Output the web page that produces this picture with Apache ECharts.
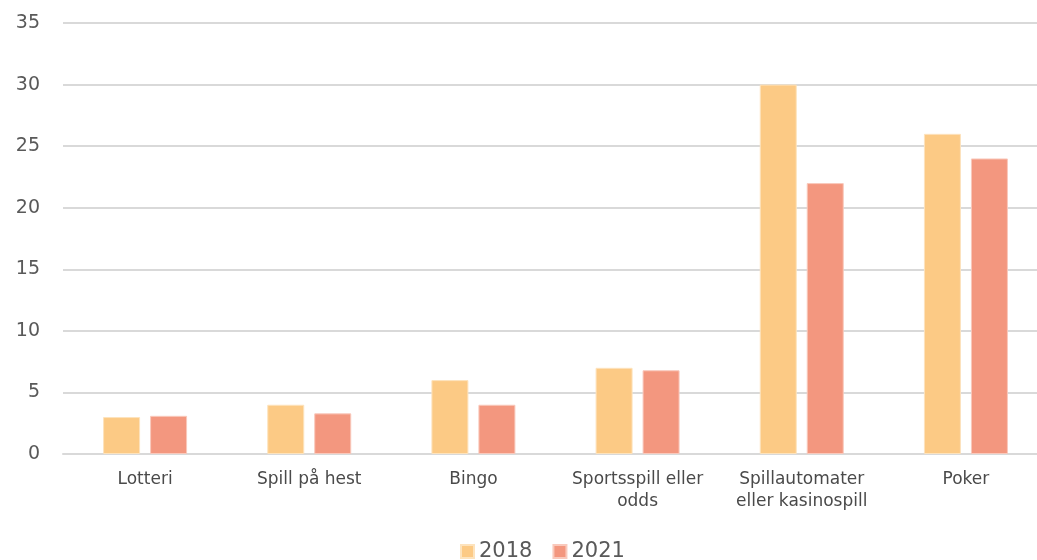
<!DOCTYPE html>
<html><head><meta charset="utf-8">
<script src="https://cdn.jsdelivr.net/npm/echarts@6/dist/echarts.min.js"></script>
<style>html,body{margin:0;padding:0;background:#fff;overflow:hidden;width:1037px;height:560px}#c{width:1048px;height:560px}</style>
</head><body><div id="c"></div>
<script>
const categories = ['Lotteri','Spill på hest','Bingo','Sportsspill eller\nodds','Spillautomater\neller kasinospill','Poker'];
const values2018 = [3, 4, 6, 7, 30, 26];
const values2021 = [3.1, 3.3, 4, 6.8, 22, 24];
const yTicks = {min: 0, max: 35, interval: 5};
const chart = echarts.init(document.getElementById('c'));
const font = '"DejaVu Sans", sans-serif';
chart.setOption({
  animation: false,
  textStyle: {fontFamily: font},
  grid: {left: 63, right: 0, top: 23, bottom: 106},
  legend: {
    bottom: -7, left: 455, itemWidth: 13, itemHeight: 13, itemGap: 20,
    icon: 'rect',
    textStyle: {fontSize: 21, color: '#595959', fontFamily: font},
    data: ['2018','2021']
  },
  xAxis: {
    type: 'category', data: categories,
    axisLine: {lineStyle: {color: '#d9d9d9', width: 2}},
    axisTick: {show: false},
    axisLabel: {fontSize: 17, color: '#4a4a4a', lineHeight: 22, margin: 15, interval: 0}
  },
  yAxis: {
    type: 'value', min: yTicks.min, max: yTicks.max, interval: yTicks.interval,
    axisLine: {show: false}, axisTick: {show: false},
    splitLine: {lineStyle: {color: '#d9d9d9', width: 2}},
    axisLabel: {fontSize: 19, color: '#595959', margin: 23}
  },
  series: [
    {name: '2018', type: 'bar', data: values2018, barWidth: 37, barGap: '27%',
     itemStyle: {color: '#fcca85', borderColor: '#fde3bd', borderWidth: 1}},
    {name: '2021', type: 'bar', data: values2021, barWidth: 37,
     itemStyle: {color: '#f3977f', borderColor: '#f9c9bc', borderWidth: 1}}
  ]
});
</script></body></html>
